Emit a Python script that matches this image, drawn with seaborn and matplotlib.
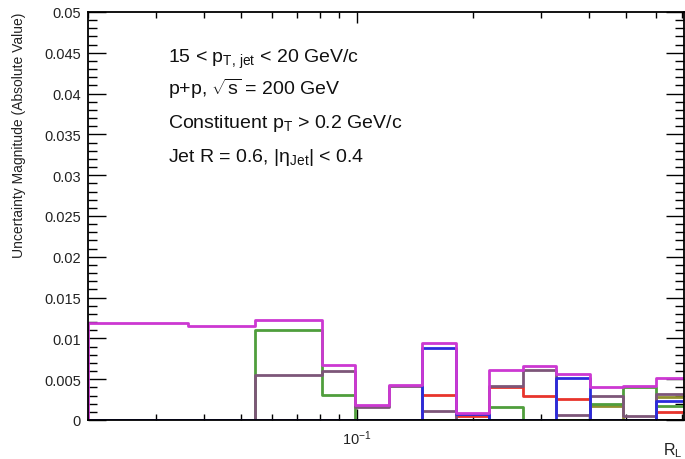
import numpy as np
import pandas as pd
import matplotlib
matplotlib.use("Agg")
import matplotlib.pyplot as plt
import matplotlib.ticker as mticker
import seaborn as sns

# bin edges in R_L (log spaced)
edges = [0.0200, 0.02443, 0.02984, 0.03645, 0.04453, 0.05439, 0.06644, 0.08115,
         0.09913, 0.1211, 0.1479, 0.1807, 0.2207, 0.2696, 0.3293, 0.4022,
         0.4913, 0.6001, 0.7330]

# uncertainty per bin for each source
unc_black = [0, 0, 0, 0, 0, 0, 0, 0, 0, 0, 0, 0, 0, 0, 0, 0, 0, 0]
unc_olive = [0, 0, 0, 0, 0, 0, 0, 0, 0, 0, 0, 0, 0, 0, 0, 0.0017, 0, 0.0028]
unc_green = [0, 0, 0, 0, 0, 0.0110, 0.0110, 0.0031, 0, 0, 0, 0, 0.0016, 0, 0, 0.0019, 0.0040, 0.0017]
unc_red = [0, 0, 0, 0, 0, 0, 0, 0, 0, 0, 0.0031, 0.0005, 0.0041, 0.0030, 0.0026, 0, 0, 0.0010]
unc_purple = [0, 0, 0, 0, 0, 0.0055, 0.0055, 0.0060, 0.0016, 0.0042, 0.0011, 0, 0.0042, 0.0061, 0.0006, 0.0029, 0.0005, 0.0032]
unc_blue = [0, 0, 0, 0, 0, 0, 0, 0, 0, 0, 0.0088, 0.0007, 0, 0, 0.0051, 0, 0, 0.0023]
unc_total = [0.0119, 0.0119, 0.0119, 0.01155, 0.01155, 0.0122, 0.0122, 0.0067, 0.0018, 0.0043,
             0.0094, 0.0008, 0.0061, 0.0066, 0.0056, 0.0040, 0.0042, 0.0051]

series = [
    (unc_black, "black"),
    (unc_olive, "#8f8f2e"),
    (unc_green, "#4f9e3c"),
    (unc_red, "#e8342c"),
    (unc_purple, "#7d5679"),
    (unc_blue, "#2b2bdc"),
    (unc_total, "#cc38d2"),
]

sns.set_theme(style="ticks")
plt.rcParams["font.family"] = ["Liberation Sans", "DejaVu Sans"]
plt.rcParams["mathtext.fontset"] = "custom"
plt.rcParams["mathtext.rm"] = "Liberation Sans"
plt.rcParams["mathtext.it"] = "Liberation Sans"
plt.rcParams["mathtext.bf"] = "Liberation Sans:bold"

fig = plt.figure(figsize=(6.85, 4.6), dpi=100)
ax = fig.add_axes([88 / 685, 39 / 460, 596 / 685, 408 / 460])
ax.set_xscale("log")


def hist_steps(vals):
    # outline of a histogram: up at the first edge, steps, down at the last edge
    xs = [edges[0]] + list(edges) + [edges[-1]]
    ys = [0] + list(vals) + [vals[-1], 0]
    return pd.DataFrame({"x": xs, "y": ys})


for vals, col in series:
    df = hist_steps(vals)
    sns.lineplot(data=df, x="x", y="y", color=col, lw=2.0, drawstyle="steps-post",
                 estimator=None, sort=False, ax=ax)

ax.set_xlim(0.02, 0.708)
ax.set_ylim(0, 0.05)
ax.set_xlabel("")
ax.set_ylabel("")

ax.yaxis.set_major_locator(mticker.MultipleLocator(0.005))
ax.yaxis.set_minor_locator(mticker.MultipleLocator(0.001))
ax.yaxis.set_major_formatter(mticker.FuncFormatter(lambda v, p: "%g" % round(v, 4)))
ax.xaxis.set_major_locator(mticker.LogLocator(base=10))
ax.xaxis.set_minor_locator(mticker.LogLocator(base=10, subs=np.arange(2, 10)))
ax.xaxis.set_minor_formatter(mticker.NullFormatter())

ax.tick_params(which="both", direction="in", top=True, right=True, colors="black",
               labelcolor="#222222", labelsize=10.5, width=1.0)
ax.tick_params(axis="y", which="major", length=13, pad=5)
ax.tick_params(axis="y", which="minor", length=6.5)
ax.tick_params(axis="x", which="major", length=8, pad=6)
ax.tick_params(axis="x", which="minor", length=4)
for sp in ax.spines.values():
    sp.set_visible(True)
    sp.set_color("black")
    sp.set_linewidth(1.3)

fig.text(19 / 685, 1 - 13 / 460, "Uncertainty Magnitude (Absolute Value)", rotation=90,
         ha="center", va="top", fontsize=10, color="#222222")
fig.text(663 / 685, 1 - 455 / 460, r"$\mathrm{R}_{\mathrm{L}}$", fontsize=11.5,
         ha="left", va="baseline", color="#222222")

labels = [
    r"15 < $\mathrm{p}_{\mathrm{T,\,jet}}$ < 20 GeV/c",
    r"p+p, $\sqrt{\mathrm{s}}$ = 200 GeV",
    r"Constituent $\mathrm{p}_{\mathrm{T}}$ > 0.2 GeV/c",
    r"Jet R = 0.6, $|\eta_{\mathrm{Jet}}|$ < 0.4",
]
baselines = [63, 95, 128, 162]
for txt, yb in zip(labels, baselines):
    fig.text(168 / 685, 1 - yb / 460, txt, fontsize=14, ha="left", va="baseline",
             color="#111111")

fig.savefig("out.png", dpi=100)
